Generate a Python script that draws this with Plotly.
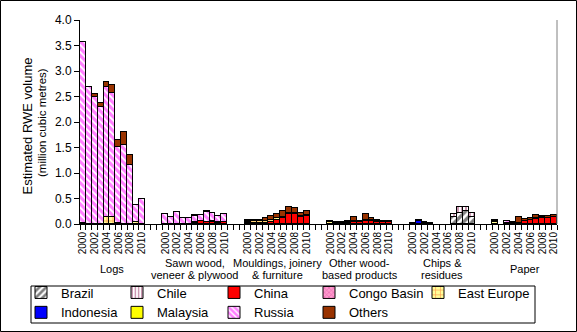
import plotly.graph_objects as go

# ---- data -----------------------------------------------------------------
years = list(range(2000, 2011))

group_lines = [
    ["Logs"],
    ["Sawn wood,", "veneer & plywood"],
    ["Mouldings, joinery", "& furniture"],
    ["Other wood-", "based products"],
    ["Chips &", "residues"],
    ["Paper"],
]

# Estimated RWE volume (million m3), 2000-2010 for each product group in order:
# logs | sawn wood | mouldings | other wood-based | chips | paper
brazil = (
    [0, 0, 0, 0, 0, 0, 0, 0, 0, 0, 0]
    + [0, 0, 0, 0, 0, 0, 0, 0, 0, 0, 0]
    + [0, 0, 0, 0, 0, 0, 0, 0, 0, 0, 0]
    + [0, 0, 0, 0, 0, 0, 0, 0, 0, 0, 0]
    + [0, 0, 0, 0, 0, 0, 0, 0.13, 0.22, 0.25, 0.13]
    + [0, 0, 0, 0, 0, 0, 0, 0, 0, 0, 0]
)
chile = (
    [0, 0, 0, 0, 0, 0, 0, 0, 0, 0, 0]
    + [0, 0, 0, 0, 0, 0, 0, 0, 0, 0, 0]
    + [0, 0, 0, 0, 0, 0, 0, 0, 0, 0, 0]
    + [0, 0, 0, 0, 0, 0, 0, 0, 0, 0, 0]
    + [0, 0, 0, 0, 0, 0, 0, 0.06, 0.11, 0.08, 0.08]
    + [0, 0, 0, 0, 0, 0, 0, 0, 0, 0, 0]
)
china = (
    [0.015, 0, 0, 0, 0, 0, 0.015, 0, 0, 0, 0]
    + [0, 0, 0, 0, 0, 0.02, 0.05, 0.03, 0.03, 0.02, 0.03]
    + [0.01, 0.01, 0.01, 0.02, 0.04, 0.08, 0.12, 0.19, 0.19, 0.14, 0.15]
    + [0, 0, 0, 0.01, 0.04, 0.04, 0.05, 0.06, 0.04, 0.03, 0.03]
    + [0, 0, 0, 0, 0, 0, 0, 0, 0, 0, 0]
    + [0, 0, 0, 0, 0.02, 0.05, 0.07, 0.09, 0.12, 0.12, 0.14]
)
congo_basin = [0] * 66
east_europe = (
    [0, 0, 0, 0, 0.13, 0.13, 0, 0, 0, 0.03, 0]
    + [0, 0, 0, 0, 0, 0.01, 0, 0.01, 0.02, 0.01, 0]
    + [0.02, 0.04, 0.04, 0.04, 0.04, 0.03, 0.02, 0.02, 0.02, 0.02, 0.02]
    + [0.03, 0.02, 0.02, 0.03, 0.02, 0.01, 0.03, 0.02, 0.01, 0.01, 0.01]
    + [0.02, 0, 0.02, 0.02, 0, 0, 0, 0, 0, 0, 0]
    + [0.03, 0, 0.02, 0.02, 0, 0, 0, 0, 0, 0, 0]
)
indonesia = (
    [0] * 44
    + [0, 0.06, 0, 0, 0, 0, 0, 0, 0, 0, 0]
    + [0] * 11
)
malaysia = (
    [0] * 22
    + [0.02, 0.01, 0, 0, 0, 0, 0, 0, 0, 0, 0]
    + [0] * 33
)
russia = (
    [3.55, 2.68, 2.49, 2.29, 2.56, 2.43, 1.50, 1.54, 1.16, 0.34, 0.50]
    + [0.19, 0.13, 0.23, 0.12, 0.12, 0.12, 0.13, 0.20, 0.16, 0.13, 0.17]
    + [0, 0, 0, 0, 0, 0, 0, 0, 0, 0, 0]
    + [0, 0, 0, 0, 0, 0, 0, 0, 0, 0, 0]
    + [0, 0, 0, 0, 0, 0, 0, 0, 0, 0, 0]
    + [0.02, 0, 0.03, 0, 0, 0, 0, 0.02, 0.01, 0, 0]
)
others = (
    [0, 0, 0.05, 0.08, 0.09, 0.16, 0.14, 0.26, 0.19, 0, 0]
    + [0, 0, 0, 0, 0, 0.02, 0, 0.02, 0.01, 0, 0]
    + [0.02, 0.02, 0.03, 0.06, 0.08, 0.08, 0.11, 0.12, 0.10, 0.05, 0.09]
    + [0.03, 0.02, 0.02, 0.02, 0.08, 0.01, 0.11, 0.03, 0.02, 0.025, 0.02]
    + [0, 0.02, 0.025, 0, 0, 0, 0, 0, 0, 0, 0]
    + [0.03, 0, 0.015, 0.02, 0.11, 0.04, 0.04, 0.07, 0.03, 0.04, 0.04]
)

# ---- styling --------------------------------------------------------------
FONT = "Arial, Liberation Sans, sans-serif"
W, H = 577, 332
L, R, T, B = 80, 20, 20, 108
PW, PH = W - L - R, H - T - B
STEP = len(years) + 3          # 11 yearly bars + 3 empty slots between groups
N_SLOTS = STEP * len(group_lines) - 3


def px_x(px):
    return (px - L) / PW


def px_y(py):
    return (H - B - py) / PH


def hatch(shape, fg, bg, size, solidity):
    return dict(color=bg, pattern=dict(shape=shape, fgcolor=fg, size=size,
                                       solidity=solidity, fillmode="overlay"))


# name, values, marker style, legend column
series = [
    ("Brazil", brazil, hatch("/", "black", "white", 6, 0.55), "legend"),
    ("Chile", chile, hatch("|", "#993366", "white", 4, 0.5), "legend2"),
    ("China", china, dict(color="#FF0000"), "legend3"),
    ("Congo Basin", congo_basin, hatch("x", "#CC3399", "#FF99CC", 4, 0.35), "legend4"),
    ("East Europe", east_europe, hatch("+", "#FF3300", "#FFFF99", 6, 0.25), "legend5"),
    ("Indonesia", indonesia, dict(color="#0000FF"), "legend"),
    ("Malaysia", malaysia, dict(color="#FFFF00"), "legend2"),
    ("Russia", russia, hatch("\\", "#FF00FF", "white", 5, 0.65), "legend3"),
    ("Others", others, dict(color="#993300"), "legend4"),
]

positions = [g * STEP + i for g in range(len(group_lines)) for i in range(len(years))]

fig = go.Figure()
for name, values, marker, leg in series:
    fig.add_trace(go.Bar(
        x=positions,
        y=[v if v else None for v in values],
        name=name,
        legend=leg,
        width=1,
        marker=dict(line=dict(color="black", width=1), **marker),
        hoverinfo="x+y+name",
    ))

tick_vals = [g * STEP + i for g in range(len(group_lines)) for i in range(0, len(years), 2)]
tick_text = [str(years[i]) for g in range(len(group_lines)) for i in range(0, len(years), 2)]

fig.update_xaxes(
    range=[-0.5, N_SLOTS - 0.5],
    tickmode="array", tickvals=tick_vals, ticktext=tick_text,
    tickangle=-90, ticks="", ticklabelstandoff=3,
    tickfont=dict(family=FONT, size=10, color="black"),
    showline=True, linecolor="black", linewidth=1,
    showgrid=False, zeroline=False, fixedrange=True,
    minor=dict(tickmode="array", tickvals=[k - 0.5 for k in range(N_SLOTS + 1)],
               ticks="outside", ticklen=5, tickcolor="black", tickwidth=1, showgrid=False),
)
fig.update_yaxes(
    range=[0, 4], dtick=0.5, tickformat=".1f",
    ticks="outside", ticklen=5, tickcolor="black",
    tickfont=dict(family=FONT, size=12, color="black"),
    showline=True, linecolor="black", linewidth=1,
    showgrid=False, zeroline=False, fixedrange=True,
)

annotations = []
# axis title (two lines of different size)
annotations.append(dict(text="Estimated RWE volume", x=px_x(18), y=px_y(126), xref="paper", yref="paper",
                        textangle=-90, showarrow=False, font=dict(family=FONT, size=13, color="black")))
annotations.append(dict(text="(million cubic metres)", x=px_x(34), y=px_y(123), xref="paper", yref="paper",
                        textangle=-90, showarrow=False, font=dict(family=FONT, size=11.5, color="black")))

# product group captions under the year labels
for g, lines in enumerate(group_lines):
    centre = g * STEP + (len(years) - 1) / 2
    ys = [269] if len(lines) == 1 else [262.5, 274.5]
    for text, yy in zip(lines, ys):
        annotations.append(dict(text=text, x=centre, xref="x", y=px_y(yy), yref="paper",
                                showarrow=False, yanchor="middle",
                                font=dict(family=FONT, size=11, color="black")))

shapes = [
    # chart border
    dict(type="rect", xref="paper", yref="paper", x0=px_x(0.5), x1=px_x(576.5), y0=px_y(0.5), y1=px_y(331.5),
         line=dict(color="black", width=1), layer="below"),
    # right edge of the plot area
    dict(type="line", xref="paper", yref="paper", x0=1, x1=1, y0=0, y1=1,
         line=dict(color="#808080", width=1)),
    # legend frame
    dict(type="rect", xref="paper", yref="paper", x0=px_x(31), x1=px_x(535), y0=px_y(286), y1=px_y(323),
         line=dict(color="black", width=1)),
]

# five legend columns, two rows each
legend_cols = {"legend": 21, "legend2": 117, "legend3": 214, "legend4": 309, "legend5": 418}
legends = {}
for key, left in legend_cols.items():
    legends[key] = dict(orientation="v", traceorder="normal",
                        x=px_x(left), xanchor="left", y=px_y(277.5), yanchor="top",
                        font=dict(family=FONT, size=13, color="black"),
                        bgcolor="rgba(0,0,0,0)", borderwidth=0,
                        itemclick=False, itemdoubleclick=False)

fig.update_layout(
    width=W, height=H,
    margin=dict(l=L, r=R, t=T, b=B, autoexpand=False),
    paper_bgcolor="white", plot_bgcolor="white",
    barmode="stack", bargap=0,
    font=dict(family=FONT, color="black"),
    showlegend=True,
    annotations=annotations,
    shapes=shapes,
    **legends,
)

fig.write_html("out.html")
